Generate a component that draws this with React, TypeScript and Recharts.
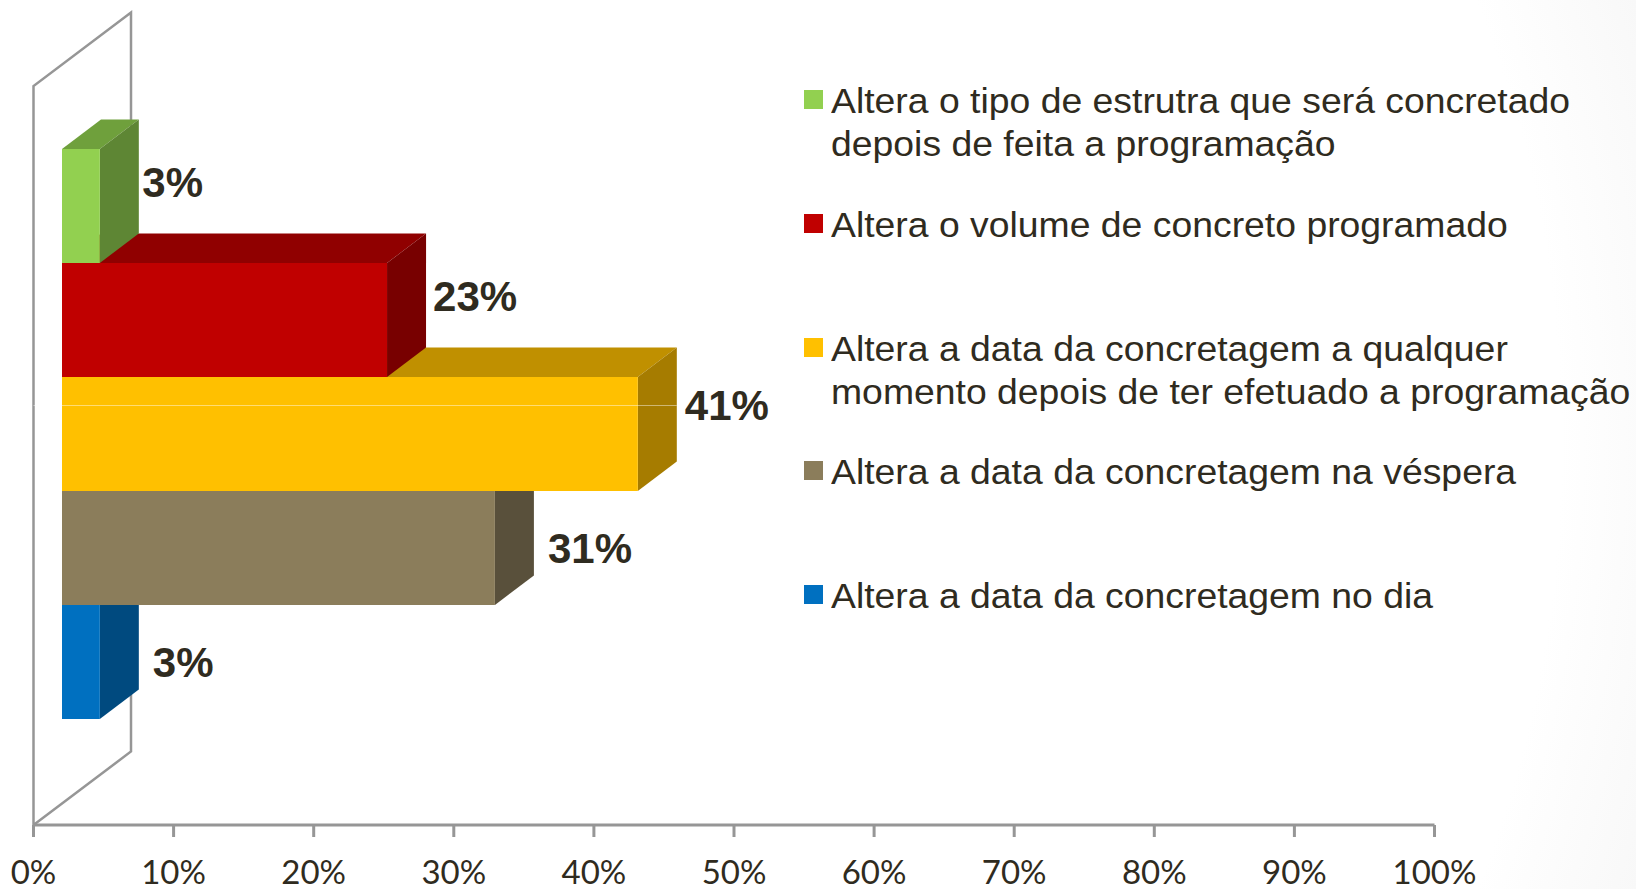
import React from 'react';
import { BarChart, Bar, XAxis, YAxis, Legend, LabelList, usePlotArea } from 'recharts';

// bottom bar first: the chart draws them in this order, so upper bars overlap lower ones
const categories = [
  'Altera a data da concretagem no dia',
  'Altera a data da concretagem na véspera',
  'Altera a data da concretagem a qualquer momento depois de ter efetuado a programação',
  'Altera o volume de concreto programado',
  'Altera o tipo de estrutra que será concretado depois de feita a programação',
];
const values = [2.7, 30.9, 41.1, 23.2, 2.7];
const xTicks = [0, 10, 20, 30, 40, 50, 60, 70, 80, 90, 100];

// legend reads top to bottom
const legendLines = [
  ['Altera o tipo de estrutra que será concretado', 'depois de feita a programação'],
  ['Altera o volume de concreto programado'],
  ['Altera a data da concretagem a qualquer', 'momento depois de ter efetuado a programação'],
  ['Altera a data da concretagem na véspera'],
  ['Altera a data da concretagem no dia'],
];
const legendColors = ['#92D050', '#C00000', '#FFC000', '#8B7D5B', '#0070C0'];

const frontColors = ['#0070C0', '#8B7D5B', '#FFC000', '#C00000', '#92D050'];
const topColors = ['#00548F', '#685E44', '#C09000', '#900000', '#6FA03C'];
const sideColors = ['#004A7F', '#59503B', '#A67C00', '#780000', '#5E8634'];

// hand placed data labels in the original
const labelNudgeX = [14, 14, 8, 7, 3.5];
const labelNudgeY = [0, 0, -29, -24, -24];

const data = categories.map((name, i) => ({ name, value: values[i] }));

const TEXT = '#2F2B20';
const GRAY = '#969696';
const SHIFT_X = 28.5;
const SHIFT_Y = -21.5;
const DEPTH_X = 39;
const DEPTH_Y = -29.5;
const WALL_X = 97.5;
const WALL_Y = -73.5;
const YELLOW_INDEX = 2;

const Bar3D = (props: any) => {
  const { x, y, width, height, index } = props;
  const l = x + SHIFT_X;
  const t = y + SHIFT_Y;
  const r = l + width;
  const b = t + height;
  return (
    <g>
      <polygon
        points={`${l},${t} ${l + DEPTH_X},${t + DEPTH_Y} ${r + DEPTH_X},${t + DEPTH_Y} ${r},${t}`}
        fill={topColors[index]}
      />
      <polygon
        points={`${r},${t} ${r + DEPTH_X},${t + DEPTH_Y} ${r + DEPTH_X},${b + DEPTH_Y} ${r},${b}`}
        fill={sideColors[index]}
      />
      <rect x={l} y={t} width={width} height={height} fill={frontColors[index]} />
      {/* thin pale line that runs across the tallest bar in the original */}
      {index === YELLOW_INDEX && (
        <line
          x1={x}
          x2={r + DEPTH_X}
          y1={t + 28.5}
          y2={t + 28.5}
          stroke="#fff"
          strokeOpacity={0.45}
          strokeWidth={1}
        />
      )}
    </g>
  );
};

const Walls = () => {
  const plot = usePlotArea();
  if (!plot) return null;
  const left = plot.x;
  const top = plot.y;
  const bottom = plot.y + plot.height;
  const path = `M${left},${bottom} L${left},${top} L${left + WALL_X},${top + WALL_Y} L${left + WALL_X},${bottom + WALL_Y} L${left},${bottom}`;
  return <path d={path} fill="none" stroke={GRAY} strokeWidth={2.5} />;
};

const BarLabel = (props: any) => {
  const { x, y, width, height, value, index } = props;
  return (
    <text
      x={x + SHIFT_X + width + DEPTH_X + labelNudgeX[index]}
      y={y + SHIFT_Y + height / 2 + labelNudgeY[index]}
      dominantBaseline="central"
      fontFamily="Liberation Sans"
      fontWeight="bold"
      fontSize={42}
      fill={TEXT}
    >
      {Math.round(value)}%
    </text>
  );
};

const LegendList = () => (
  <div style={{ fontFamily: 'Liberation Sans', fontSize: 35.5, color: TEXT, lineHeight: '43px' }}>
    {legendLines.map((lines, i) => (
      <div key={i} style={{ position: 'relative', height: 123.75, paddingLeft: 27, whiteSpace: 'nowrap' }}>
        <span
          style={{
            position: 'absolute',
            left: 0,
            top: 10,
            width: 19,
            height: 19,
            background: legendColors[i],
          }}
        />
        {lines.map((line) => (
          <div key={line} style={{ transform: 'scaleX(1.052)', transformOrigin: 'left' }}>
            {line}
          </div>
        ))}
      </div>
    ))}
  </div>
);

export default function App() {
  return (
    <div
      style={{
        position: 'absolute',
        left: 0,
        top: 0,
        width: 1636,
        height: 889,
        background: 'radial-gradient(ellipse 1050px 1250px at 700px 445px, #fff 82%, #f6f6f6 100%)',
      }}
    >
      <BarChart
        width={1636}
        height={889}
        data={data}
        layout="vertical"
        barCategoryGap={0}
        margin={{ top: 86, right: 201.5, bottom: 0, left: 33.5 }}
      >
        <XAxis
          type="number"
          domain={[0, 100]}
          ticks={xTicks}
          interval={0}
          height={64}
          tickFormatter={(v: number) => `${v}%`}
          tickSize={12}
          tickMargin={24}
          axisLine={{ stroke: GRAY, strokeWidth: 3 }}
          tickLine={{ stroke: GRAY, strokeWidth: 3 }}
          tick={{ fill: TEXT, fontFamily: 'Lato', fontSize: 33 }}
        />
        <YAxis type="category" dataKey="name" hide reversed padding={{ top: 84.5, bottom: 84.5 }} />
        <Walls />
        <Legend
          layout="horizontal"
          align="center"
          verticalAlign="middle"
          wrapperStyle={{ left: 804, top: 80, width: 830 }}
          content={() => <LegendList />}
        />
        <Bar dataKey="value" shape={<Bar3D />} isAnimationActive={false}>
          <LabelList dataKey="value" content={<BarLabel />} />
        </Bar>
      </BarChart>
    </div>
  );
}
